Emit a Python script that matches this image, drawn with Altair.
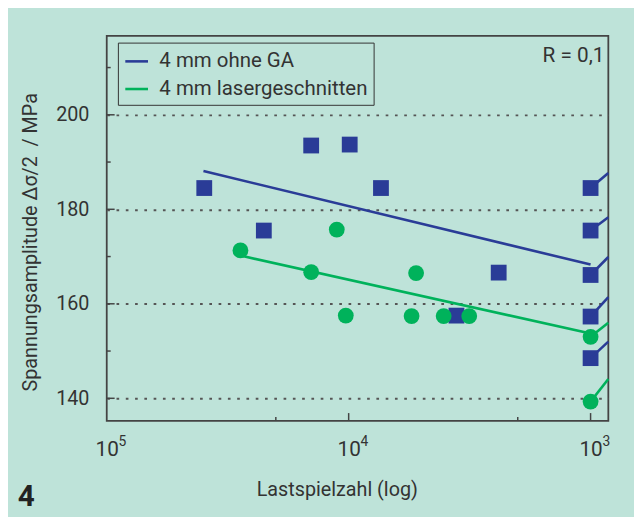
import math
import altair as alt
import pandas as pd

# ---------------- data ----------------
blue_name = "4 mm ohne GA"
green_name = "4 mm lasergeschnitten"

blue_cycles = [2.53e5, 4.46e5, 7.0e5, 1.01e6, 1.36e6, 2.79e6, 4.17e6, 1e7, 1e7, 1e7, 1e7, 1e7]
blue_stress = [184.5, 175.5, 193.5, 193.7, 184.5, 157.5, 166.6, 184.5, 175.5, 166.1, 157.3, 148.5]

green_cycles = [3.57e5, 7.0e5, 8.93e5, 9.73e5, 1.82e6, 1.90e6, 2.47e6, 3.15e6, 1e7, 1e7]
green_stress = [171.3, 166.7, 175.7, 157.5, 157.4, 166.5, 157.4, 157.4, 153.0, 139.3]

fit_series = [blue_name, blue_name, green_name, green_name]
fit_cycles = [2.51e5, 1e7, 3.57e5, 1e7]
fit_stress = [188.1, 168.3, 170.2, 153.7]

runout_series = [blue_name] * 5 + [green_name] * 2
runout_start_cycles = [1e7] * 7
runout_start_stress = [184.5, 175.5, 166.1, 157.3, 148.5, 153.0, 139.3]
runout_end_stress = [187.7, 178.3, 169.9, 161.4, 152.0, 156.0, 144.1]

x_domain = [1e5, 1.184e7]
y_domain = [135.2, 216.7]
x_label_values = [1e5, 1e6, 1e7]
x_label_base = "10"
x_label_exponents = ["5", "4", "3"]
y_label_values = [140, 160, 180, 200]
x_major_ticks = [1e6, 1e7]
x_minor_ticks = [5e5, 5e6]
y_major_ticks = [140, 160, 180, 200]
y_minor_ticks = [150, 170, 190, 210]

x_title = "Lastspielzahl (log)"
y_title = "Spannungsamplitude Δσ/2 \u00a0/ MPa"
note_text = "R = 0,1"
figure_number = "4"

# ---------------- styling ----------------
BG = "#bee3d9"
BLUE = "#2a3c97"
GREEN = "#00b25b"
INK = "#333333"
FRAME = "#444444"
FONT = "Roboto"
W, H = 508, 390

points = pd.DataFrame({
    "cycles": blue_cycles + green_cycles,
    "stress": blue_stress + green_stress,
    "series": [blue_name] * len(blue_cycles) + [green_name] * len(green_cycles),
})
fits = pd.DataFrame({"cycles": fit_cycles, "stress": fit_stress, "series": fit_series})
runouts = pd.DataFrame({
    "series": runout_series,
    "cycles": runout_start_cycles,
    "stress": runout_start_stress,
    "cycles_end": [x_domain[1]] * len(runout_series),
    "stress_end": runout_end_stress,
})
exponents = pd.DataFrame({"cycles": x_label_values, "exp": x_label_exponents})

xscale = alt.Scale(type="log", domain=x_domain, nice=False)
yscale = alt.Scale(domain=y_domain, nice=False, zero=False)
color_scale = alt.Scale(domain=[blue_name, green_name], range=[BLUE, GREEN])

x_axis = alt.Axis(
    values=x_label_values, labelExpr=f"'{x_label_base}'", grid=False, ticks=False, tickSize=0,
    domain=False, labelFlush=False, labelOverlap=False, labelFont=FONT, labelFontSize=21,
    labelColor=INK, labelPadding=18, title=x_title, titleFont=FONT, titleFontSize=20,
    titleFontWeight="normal", titleColor=INK, titleX=233, titleY=75, titleAlign="center",
    titleBaseline="alphabetic",
)
y_axis = alt.Axis(
    values=y_label_values, grid=True, gridColor="#555555", gridDash=[2.7, 6.7], gridWidth=2,
    ticks=False, tickSize=0, domain=False, labelFont=FONT, labelFontSize=20, labelColor=INK,
    labelPadding=18, title=y_title, titleFont=FONT, titleFontSize=20, titleFontWeight="normal",
    titleColor=INK, titleAngle=270, titleX=-71, titleY=208.5, titleAlign="center",
    titleBaseline="alphabetic",
)

X = alt.X("cycles:Q", scale=xscale, axis=x_axis)
Y = alt.Y("stress:Q", scale=yscale, axis=y_axis)

base_pts = alt.Chart(points)
blue_pts = base_pts.transform_filter(alt.datum.series == blue_name).mark_point(
    filled=True, shape="square", size=256, opacity=1, color=BLUE
).encode(x=X, y=Y)
green_pts = base_pts.transform_filter(alt.datum.series == green_name).mark_point(
    filled=True, shape="circle", size=256, opacity=1, color=GREEN
).encode(x=X, y=Y)

fit_lines = alt.Chart(fits).mark_line(strokeWidth=2.6).encode(
    x=X, y=Y,
    color=alt.Color(
        "series:N",
        scale=color_scale,
        legend=alt.Legend(
            title=None, orient="none", legendX=11.3, legendY=6.8, symbolType="stroke",
            symbolSize=529, symbolStrokeWidth=2.6, labelFont=FONT, labelFontSize=20.7,
            labelColor=INK, labelOffset=10, rowPadding=5, padding=6,
            strokeColor=INK, labelLimit=400,
        ),
    ),
    detail="series:N",
)

runout_lines = alt.Chart(runouts).mark_rule(strokeWidth=2.6).encode(
    x=X, x2="cycles_end:Q", y=Y, y2="stress_end:Q",
    color=alt.Color("series:N", scale=color_scale, legend=None),
)

tick_style = dict(color=FRAME, strokeWidth=1.5)
xt_major = alt.Chart(pd.DataFrame({"cycles": x_major_ticks})).mark_rule(**tick_style).encode(
    x=X, y=alt.value(H), y2=alt.value(H - 8))
xt_minor = alt.Chart(pd.DataFrame({"cycles": x_minor_ticks})).mark_rule(**tick_style).encode(
    x=X, y=alt.value(H), y2=alt.value(H - 4))
yt_major = alt.Chart(pd.DataFrame({"stress": y_major_ticks})).mark_rule(**tick_style).encode(
    y=Y, x=alt.value(0), x2=alt.value(8))
yt_minor = alt.Chart(pd.DataFrame({"stress": y_minor_ticks})).mark_rule(**tick_style).encode(
    y=Y, x=alt.value(0), x2=alt.value(4))

exp_text = alt.Chart(exponents).mark_text(
    font=FONT, fontSize=14, color=INK, align="left", baseline="alphabetic", dx=12
).encode(x=X, y=alt.value(H + 25), text="exp:N")

note = alt.Chart(pd.DataFrame({"t": [note_text]})).mark_text(
    font=FONT, fontSize=21, color=INK, align="right", baseline="middle"
).encode(text="t:N", x=alt.value(504), y=alt.value(20))

fig_no = alt.Chart(pd.DataFrame({"t": [figure_number]})).mark_text(
    font=FONT, fontSize=30, fontWeight="bold", color="#222222", align="left", baseline="alphabetic"
).encode(text="t:N", x=alt.value(-90), y=alt.value(476))

chart = alt.layer(
    blue_pts, fit_lines, runout_lines, green_pts,
    xt_major, xt_minor, yt_major, yt_minor, exp_text, note, fig_no,
).properties(
    width=W, height=H,
    autosize=alt.AutoSizeParams(type="none"),
    padding={"left": 100, "top": 25, "right": 26, "bottom": 94},
).configure(
    background=BG,
).configure_view(
    stroke=FRAME, strokeWidth=1.8, fill=BG,
)

chart.save("out.html", embed_options={"renderer": "svg", "actions": False})
